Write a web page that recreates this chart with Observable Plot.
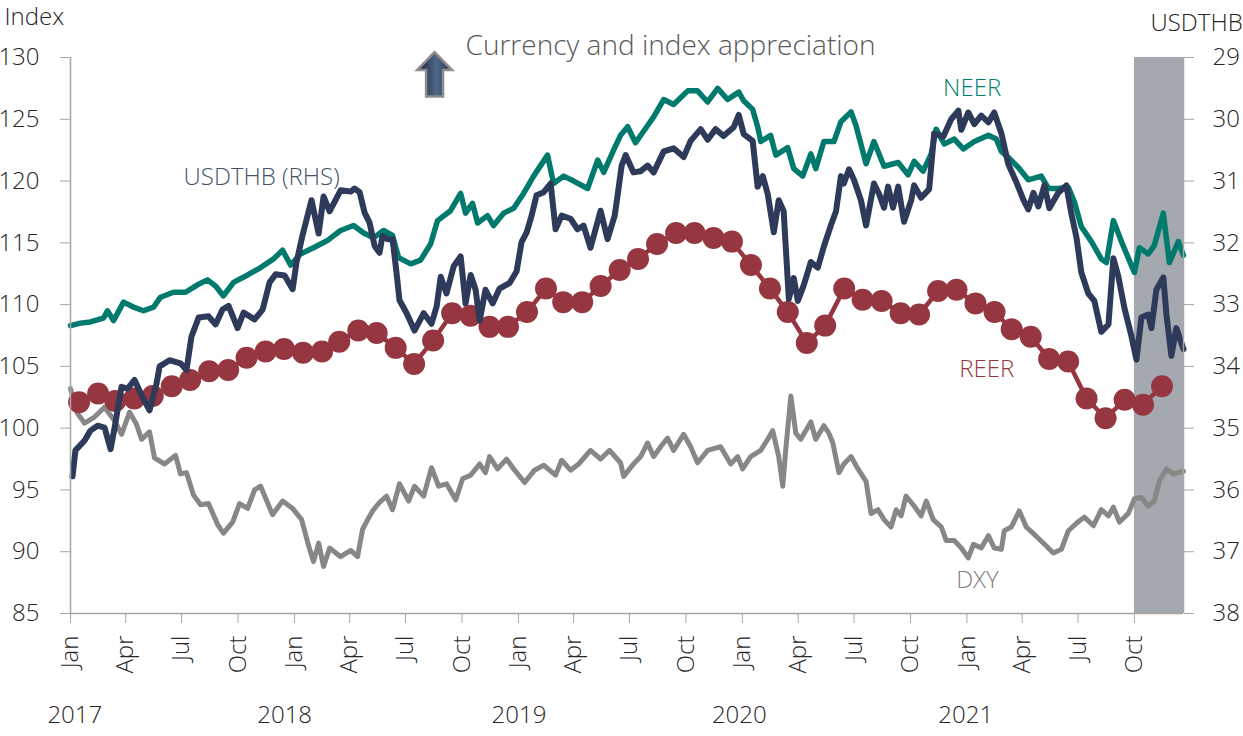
<!DOCTYPE html>
<html>
<head>
<meta charset="utf-8">
<script src="https://cdn.jsdelivr.net/npm/d3@7"></script>
<script src="https://cdn.jsdelivr.net/npm/@observablehq/plot@0.6"></script>
<style>
  html, body { margin: 0; padding: 0; background: #fff; }
  #chart svg text { font-weight: 300; }
</style>
</head>
<body>
<div id="chart"></div>
<script>
// Time stored as decimal years
const neer = [
[2017.000,108.3],[2017.045,108.5],[2017.089,108.6],[2017.147,108.9],[2017.165,109.5],[2017.192,108.7],[2017.237,110.2],[2017.281,109.8],[2017.326,109.5],[2017.371,109.8],[2017.402,110.6],[2017.460,111.0],[2017.514,111.0],[2017.567,111.6],[2017.612,112.0],[2017.648,111.5],[2017.683,110.7],[2017.728,111.8],[2017.791,112.4],[2017.849,113.0],[2017.907,113.7],[2017.947,114.4],[2017.983,113.2],[2018.027,114.1],[2018.085,114.6],[2018.148,115.2],[2018.206,116.0],[2018.264,116.4],[2018.309,115.8],[2018.353,115.4],[2018.398,116.0],[2018.438,115.6],[2018.465,113.8],[2018.519,113.3],[2018.563,113.6],[2018.608,114.9],[2018.639,116.8],[2018.697,117.6],[2018.742,119.0],[2018.764,117.4],[2018.795,118.2],[2018.818,116.6],[2018.862,117.2],[2018.889,116.4],[2018.934,117.4],[2018.979,117.8],[2019.023,119.0],[2019.068,120.4],[2019.130,122.1],[2019.157,119.8],[2019.202,120.4],[2019.247,120.0],[2019.309,119.4],[2019.354,121.7],[2019.381,120.7],[2019.425,122.5],[2019.456,123.7],[2019.488,124.4],[2019.523,123.1],[2019.577,124.5],[2019.604,125.2],[2019.649,126.6],[2019.693,126.2],[2019.756,127.3],[2019.800,127.3],[2019.845,126.4],[2019.890,127.5],[2019.934,126.6],[2019.984,127.2],[2020.006,126.5],[2020.046,125.8],[2020.068,124.4],[2020.082,123.2],[2020.126,123.7],[2020.149,122.1],[2020.202,122.7],[2020.229,121.0],[2020.269,120.4],[2020.305,122.2],[2020.327,121.0],[2020.363,123.2],[2020.408,123.2],[2020.439,124.8],[2020.484,125.6],[2020.506,124.5],[2020.551,121.4],[2020.586,123.2],[2020.631,121.2],[2020.694,121.5],[2020.738,120.5],[2020.765,121.6],[2020.805,120.8],[2020.841,122.2],[2020.863,124.2],[2020.899,123.0],[2020.944,123.4],[2020.984,122.6],[2021.033,123.2],[2021.096,123.7],[2021.131,123.4],[2021.154,122.4],[2021.185,121.9],[2021.230,121.1],[2021.274,120.1],[2021.332,120.4],[2021.364,119.4],[2021.408,119.4],[2021.453,119.5],[2021.480,118.3],[2021.511,116.3],[2021.556,115.1],[2021.600,113.7],[2021.623,113.4],[2021.654,116.8],[2021.690,115.1],[2021.734,113.2],[2021.748,112.6],[2021.770,114.6],[2021.810,114.1],[2021.837,114.8],[2021.877,117.4],[2021.904,113.4],[2021.944,115.1],[2021.967,114.0]
];

// USDTHB in baht per dollar (right axis, inverted)
const usdthb = [
[2017.009,35.78],[2017.022,35.36],[2017.063,35.20],[2017.089,35.04],[2017.121,34.96],[2017.152,34.99],[2017.179,35.34],[2017.197,34.99],[2017.228,34.33],[2017.255,34.36],[2017.286,34.22],[2017.322,34.50],[2017.353,34.71],[2017.384,34.28],[2017.398,34.00],[2017.442,33.90],[2017.491,33.95],[2017.518,34.06],[2017.540,33.52],[2017.572,33.21],[2017.616,33.19],[2017.648,33.32],[2017.679,33.08],[2017.706,33.02],[2017.746,33.38],[2017.773,33.13],[2017.822,33.24],[2017.858,33.08],[2017.889,32.64],[2017.916,32.51],[2017.956,32.53],[2017.992,32.75],[2018.009,32.32],[2018.036,31.88],[2018.076,31.31],[2018.108,31.85],[2018.130,31.25],[2018.157,31.49],[2018.206,31.15],[2018.251,31.17],[2018.268,31.12],[2018.291,31.18],[2018.313,31.51],[2018.335,31.67],[2018.358,32.05],[2018.380,32.16],[2018.393,31.89],[2018.416,31.94],[2018.438,31.94],[2018.456,32.49],[2018.469,32.93],[2018.501,33.14],[2018.536,33.42],[2018.577,33.14],[2018.612,33.31],[2018.635,33.03],[2018.653,32.55],[2018.679,32.82],[2018.711,32.38],[2018.742,32.22],[2018.764,32.98],[2018.787,32.52],[2018.809,32.76],[2018.827,33.26],[2018.853,32.76],[2018.885,32.98],[2018.916,32.74],[2018.961,32.65],[2018.992,32.46],[2019.014,31.99],[2019.037,31.83],[2019.059,31.56],[2019.081,31.23],[2019.113,31.18],[2019.144,31.04],[2019.166,31.78],[2019.193,31.56],[2019.233,31.61],[2019.264,31.78],[2019.291,31.72],[2019.322,32.08],[2019.367,31.48],[2019.398,31.94],[2019.430,31.56],[2019.443,31.23],[2019.461,30.75],[2019.479,30.58],[2019.514,30.86],[2019.546,30.84],[2019.577,30.75],[2019.604,30.86],[2019.649,30.52],[2019.693,30.47],[2019.738,30.61],[2019.769,30.35],[2019.814,30.16],[2019.845,30.33],[2019.881,30.16],[2019.916,30.27],[2019.961,30.13],[2019.984,29.93],[2020.006,30.24],[2020.046,30.35],[2020.068,31.09],[2020.091,30.92],[2020.113,31.21],[2020.140,31.83],[2020.162,31.31],[2020.184,31.49],[2020.207,32.91],[2020.229,32.57],[2020.247,32.94],[2020.274,32.68],[2020.305,32.31],[2020.336,32.40],[2020.363,32.06],[2020.394,31.72],[2020.417,31.49],[2020.439,30.92],[2020.452,31.04],[2020.475,30.81],[2020.497,30.98],[2020.528,31.31],[2020.551,31.72],[2020.586,31.04],[2020.609,31.21],[2020.631,31.43],[2020.649,31.09],[2020.671,31.43],[2020.694,31.09],[2020.720,31.66],[2020.752,31.31],[2020.765,31.07],[2020.796,31.27],[2020.832,31.13],[2020.854,30.23],[2020.895,30.28],[2020.930,30.00],[2020.962,29.86],[2020.975,30.17],[2021.006,29.89],[2021.033,30.08],[2021.064,29.94],[2021.096,30.05],[2021.122,29.89],[2021.154,30.23],[2021.185,30.73],[2021.221,31.02],[2021.252,31.30],[2021.274,31.46],[2021.297,31.19],[2021.319,31.41],[2021.346,31.07],[2021.368,31.44],[2021.408,31.19],[2021.444,31.07],[2021.466,31.52],[2021.489,31.91],[2021.511,32.48],[2021.542,32.82],[2021.569,32.94],[2021.600,33.44],[2021.632,33.32],[2021.654,32.25],[2021.676,32.54],[2021.703,33.05],[2021.734,33.50],[2021.757,33.89],[2021.779,33.21],[2021.810,33.16],[2021.824,33.38],[2021.846,32.76],[2021.877,32.56],[2021.891,33.16],[2021.913,33.83],[2021.935,33.38],[2021.967,33.72]
];

const dxy = [
[2017.000,103.2],[2017.031,101.2],[2017.063,100.4],[2017.107,100.9],[2017.152,101.7],[2017.197,100.6],[2017.228,99.5],[2017.264,101.3],[2017.295,100.3],[2017.317,99.1],[2017.353,99.7],[2017.375,97.6],[2017.420,97.1],[2017.469,97.8],[2017.491,96.3],[2017.518,96.4],[2017.549,94.6],[2017.581,93.8],[2017.616,93.9],[2017.657,92.2],[2017.683,91.5],[2017.724,92.4],[2017.755,93.9],[2017.791,93.5],[2017.822,95.0],[2017.849,95.3],[2017.902,93.0],[2017.947,94.1],[2017.992,93.5],[2018.032,92.6],[2018.063,90.5],[2018.085,89.2],[2018.108,90.7],[2018.130,88.8],[2018.157,90.3],[2018.206,89.6],[2018.251,90.1],[2018.282,89.6],[2018.304,91.8],[2018.327,92.6],[2018.349,93.3],[2018.380,94.0],[2018.411,94.5],[2018.438,93.4],[2018.469,95.5],[2018.510,94.1],[2018.536,95.3],[2018.577,94.5],[2018.612,96.8],[2018.644,95.3],[2018.679,95.5],[2018.720,94.2],[2018.751,95.9],[2018.787,96.2],[2018.827,97.1],[2018.853,96.4],[2018.871,97.7],[2018.907,96.7],[2018.947,97.5],[2018.983,96.6],[2019.028,95.6],[2019.072,96.6],[2019.113,97.0],[2019.166,96.2],[2019.193,97.4],[2019.233,96.6],[2019.269,97.1],[2019.322,98.2],[2019.367,97.5],[2019.407,98.2],[2019.456,97.2],[2019.470,96.1],[2019.514,97.1],[2019.546,97.7],[2019.577,98.8],[2019.604,97.7],[2019.635,98.5],[2019.666,99.2],[2019.693,98.2],[2019.738,99.5],[2019.769,98.5],[2019.800,97.2],[2019.845,98.2],[2019.903,98.5],[2019.948,97.1],[2019.979,97.7],[2020.001,96.7],[2020.037,97.7],[2020.082,98.2],[2020.113,99.1],[2020.135,99.8],[2020.162,97.7],[2020.180,95.3],[2020.193,98.2],[2020.216,102.6],[2020.238,99.6],[2020.260,99.1],[2020.305,100.5],[2020.327,99.1],[2020.363,100.2],[2020.385,99.6],[2020.403,98.8],[2020.430,96.4],[2020.452,97.1],[2020.484,97.7],[2020.515,96.7],[2020.551,95.7],[2020.573,93.1],[2020.604,93.4],[2020.631,92.6],[2020.662,92.0],[2020.685,93.4],[2020.707,92.9],[2020.729,94.5],[2020.765,93.7],[2020.796,92.9],[2020.819,94.1],[2020.850,92.6],[2020.886,92.0],[2020.908,90.9],[2020.944,90.9],[2020.975,90.3],[2021.006,89.5],[2021.029,90.6],[2021.064,90.3],[2021.096,91.3],[2021.122,90.3],[2021.154,90.2],[2021.167,91.7],[2021.198,92.0],[2021.234,93.3],[2021.265,92.0],[2021.301,91.4],[2021.341,90.7],[2021.386,89.9],[2021.422,90.2],[2021.453,91.7],[2021.489,92.3],[2021.524,92.8],[2021.565,92.1],[2021.600,93.4],[2021.632,92.9],[2021.654,93.6],[2021.681,92.4],[2021.721,93.1],[2021.748,94.3],[2021.779,94.4],[2021.810,93.7],[2021.837,94.1],[2021.859,95.7],[2021.891,96.7],[2021.922,96.3],[2021.967,96.5]
];

// Monthly REER, Jan 2017 – Nov 2021
const reerValues = [
102.1,102.8,102.2,102.4,102.6,103.4,103.9,104.6,104.7,105.7,106.2,106.4,
106.1,106.2,107.0,107.9,107.7,106.5,105.2,107.1,109.3,109.1,108.2,108.2,
109.4,111.3,110.2,110.2,111.5,112.8,113.7,114.9,115.8,115.8,115.4,115.1,
113.2,111.3,109.4,106.9,108.3,111.3,110.4,110.3,109.3,109.2,111.1,111.2,
110.1,109.4,108.0,107.4,105.6,105.4,102.4,100.8,102.3,101.9,103.4
];
const reerStart = "2017-01-15";

const leftTicks = [85, 90, 95, 100, 105, 110, 115, 120, 125, 130];
const rightTickLabels = ["38","37","36","35","34","33","32","31","30","29"];
const yearLabels = ["2017", "2018", "2019", "2020", "2021"];
const xStart = "2017-01-01", xEnd = "2021-12-20", shadeStart = "2021-10-01";

// helpers
const fromYear = y => {
  const yr = Math.floor(y);
  const a = Date.UTC(yr, 0, 1), b = Date.UTC(yr + 1, 0, 1);
  return new Date(a + (y - yr) * (b - a));
};
const thbToIndex = thb => 130 - (thb - 29) * 5; // 29 ↔ 130, 38 ↔ 85

const reer = reerValues.map((v, i) => ({
  date: d3.utcMonth.offset(new Date(reerStart), i),
  value: v
}));
const X = d => fromYear(d[0]);

const quarterTicks = d3.utcMonth.every(3).range(new Date(xStart), new Date("2021-10-02"));
const yearDates = [new Date("2017-01-08"), new Date("2017-12-16"), new Date("2019-01-02"), new Date("2019-12-27"), new Date("2020-12-30")];

const axisGray = "#a6a6a6";
const textCol = "#262626";
const fontFamily = "'Open Sans', 'Noto Sans', sans-serif";

const chart = Plot.plot({
  width: 1243,
  height: 736,
  marginLeft: 70,
  marginRight: 60,
  marginTop: 57,
  marginBottom: 123,
  style: { fontFamily, fontSize: "24px", background: "#fff", color: textCol, overflow: "visible" },
  x: { type: "utc", domain: [new Date(xStart), new Date(xEnd)] },
  y: { domain: [85, 130] },
  marks: [
    Plot.rect([0], { x1: () => new Date(shadeStart), x2: () => new Date(xEnd), y1: () => 85, y2: () => 130, fill: "#a3a9af" }),
    Plot.line(dxy, { x: X, y: d => d[1], stroke: "#878787", strokeWidth: 5 }),
    Plot.line(reer, { x: "date", y: "value", stroke: "#953640", strokeWidth: 4.5 }),
    Plot.dot(reer, { x: "date", y: "value", r: 11, fill: "#953640" }),
    Plot.line(neer, { x: X, y: d => d[1], stroke: "#007a6c", strokeWidth: 5.5 }),
    Plot.line(usdthb, { x: X, y: d => thbToIndex(d[1]), stroke: "#2e3a59", strokeWidth: 6 }),
    // axis lines
    Plot.ruleY([85], { stroke: axisGray, strokeWidth: 1.5 }),
    Plot.ruleX([new Date(xStart)], { stroke: axisGray, strokeWidth: 1.5 }),
    Plot.ruleX([new Date(xEnd)], { stroke: axisGray, strokeWidth: 1.5 }),
    Plot.axisY(leftTicks, { anchor: "left", tickSize: 10, tickPadding: 21, stroke: axisGray, fill: textCol, fontSize: 24, label: null }),
    Plot.axisY(leftTicks, { anchor: "right", tickSize: 10, tickPadding: 19, stroke: axisGray, fill: textCol, fontSize: 24, label: null,
      tickFormat: v => rightTickLabels[leftTicks.indexOf(v)] }),
    Plot.axisX(quarterTicks, { anchor: "bottom", tickSize: 10, tickPadding: 12, tickRotate: -90, stroke: axisGray, fill: textCol, fontSize: 24, label: null,
      tickFormat: d3.utcFormat("%b") }),
    // year labels under the axis
    Plot.text(yearLabels, { x: (d, i) => yearDates[i], frameAnchor: "bottom", dy: 109, text: d => d, fill: textCol, fontSize: 24 }),
    // axis titles
    Plot.text(["Index"], { frameAnchor: "top-left", dx: -66, dy: -50, textAnchor: "start", fill: textCol, fontSize: 24 }),
    Plot.text(["USDTHB"], { frameAnchor: "top-right", dx: -33, dy: -44, textAnchor: "start", fill: textCol, fontSize: 24 }),
    // series labels
    Plot.text(["USDTHB (RHS)"], { x: () => fromYear(2017.505), y: () => 120.3, textAnchor: "start", fill: "#44546a", fontSize: 24 }),
    Plot.text(["NEER"], { x: () => fromYear(2020.894), y: () => 127.5, textAnchor: "start", fill: "#00806e", fontSize: 24 }),
    Plot.text(["REER"], { x: () => fromYear(2020.966), y: () => 104.75, textAnchor: "start", fill: "#953640", fontSize: 24 }),
    Plot.text(["DXY"], { x: () => fromYear(2020.952), y: () => 87.7, textAnchor: "start", fill: "#7f7f7f", fontSize: 24 }),
    Plot.text(["Currency and index appreciation"], { x: () => fromYear(2018.764), y: () => 130.9, textAnchor: "start", fill: "#595959", fontSize: 28 })
  ]
});

// Up arrow decoration placed with the chart's scales
const sx = chart.scale("x"), sy = chart.scale("y");
const cx = sx.apply(fromYear(2018.628));
const yTop = sy.apply(130.4), yBot = sy.apply(126.8);
const svg = d3.select(chart);
const defs = svg.append("defs");
const grad = defs.append("linearGradient").attr("id", "arrowGrad").attr("x1", "0").attr("x2", "1").attr("y1", "0").attr("y2", "0");
grad.append("stop").attr("offset", "0").attr("stop-color", "#1c2536");
grad.append("stop").attr("offset", "0.55").attr("stop-color", "#4f6788");
grad.append("stop").attr("offset", "1").attr("stop-color", "#2a374f");
const hw = 17.5, sw = 8.5, hh = 18;
const pts = [[cx, yTop], [cx + hw, yTop + hh], [cx + sw, yTop + hh], [cx + sw, yBot], [cx - sw, yBot], [cx - sw, yTop + hh], [cx - hw, yTop + hh]];
svg.append("polygon")
  .attr("points", pts.map(p => p.join(",")).join(" "))
  .attr("fill", "url(#arrowGrad)")
  .attr("stroke", "#8e8e8e")
  .attr("stroke-width", 2.5)
  .attr("stroke-linejoin", "miter");

document.getElementById("chart").appendChild(chart);
</script>
</body>
</html>
